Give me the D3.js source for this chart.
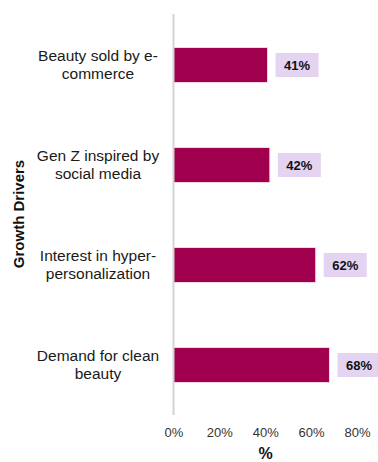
<!DOCTYPE html>
<html>
<head>
<meta charset="utf-8">
<script src="https://cdn.jsdelivr.net/npm/d3@7"></script>
<style>
  html, body { margin: 0; padding: 0; background: #fff; }
  svg { display: block; font-family: "Liberation Sans", Arial, sans-serif; }
</style>
</head>
<body>
<svg id="chart" width="378" height="462"></svg>
<script>
// Growth drivers and the share of respondents citing each
const drivers = [
  ["Beauty sold by e-", "commerce"],
  ["Gen Z inspired by", "social media"],
  ["Interest in hyper-", "personalization"],
  ["Demand for clean", "beauty"]
];
const shares = [41, 42, 62, 68];
const tickValues = [0, 20, 40, 60, 80];

const svg = d3.select("#chart");

const x = d3.scaleLinear().domain([0, 80]).range([173.5, 357]);
const y = d3.scaleBand().domain(d3.range(drivers.length)).range([15, 415]).paddingInner(0.65).paddingOuter(0.325);

// Bars
svg.selectAll("rect.bar")
  .data(shares)
  .join("rect")
  .attr("class", "bar")
  .attr("x", x(0))
  .attr("y", (d, i) => y(i))
  .attr("width", d => x(d) - x(0))
  .attr("height", y.bandwidth())
  .attr("fill", "#a1004f")
  .attr("stroke", "#f3d6e6")
  .attr("stroke-width", 1);

// Value labels on lavender chips
const chipW = 43, chipH = 24, gap = 8;
const chips = svg.selectAll("g.chip")
  .data(shares)
  .join("g")
  .attr("class", "chip")
  .attr("transform", (d, i) => `translate(${x(d) + gap},${y(i) + y.bandwidth() / 2 - chipH / 2})`);
chips.append("rect")
  .attr("width", chipW)
  .attr("height", chipH)
  .attr("fill", "#e4d3f1");
chips.append("text")
  .attr("x", chipW / 2)
  .attr("y", chipH / 2 + 4.7)
  .attr("text-anchor", "middle")
  .attr("font-size", 13)
  .attr("font-weight", "bold")
  .attr("fill", "#111")
  .text(d => d + "%");

// Vertical baseline
svg.append("line")
  .attr("x1", x(0)).attr("x2", x(0))
  .attr("y1", 14).attr("y2", 415)
  .attr("stroke", "#d4d4d4")
  .attr("stroke-width", 2);

// Category labels (two lines each)
const cats = svg.selectAll("text.cat")
  .data(drivers)
  .join("text")
  .attr("class", "cat")
  .attr("text-anchor", "middle")
  .attr("font-size", 15.5)
  .attr("fill", "#1a1a1a");
cats.each(function (lines, i) {
  const cy = y(i) + y.bandwidth() / 2;
  d3.select(this).selectAll("tspan")
    .data(lines)
    .join("tspan")
    .attr("x", 98)
    .attr("y", (l, j) => cy - 4.3 + j * 18.6)
    .text(l => l);
});

// X axis tick labels
const xAxis = d3.axisBottom(x).tickValues(tickValues).tickFormat(d => d + "%").tickSize(0).tickPadding(0);
const gx = svg.append("g").attr("transform", "translate(0,428)").call(xAxis);
gx.select(".domain").remove();
gx.selectAll("text")
  .attr("font-family", "Liberation Sans, Arial, sans-serif")
  .attr("font-size", 13)
  .attr("fill", "#333");

// Axis titles
svg.append("text")
  .attr("x", 265.5)
  .attr("y", 459)
  .attr("text-anchor", "middle")
  .attr("font-size", 16)
  .attr("font-weight", "bold")
  .attr("fill", "#111")
  .text("%");

svg.append("text")
  .attr("transform", "translate(23.5,214) rotate(-90)")
  .attr("text-anchor", "middle")
  .attr("font-size", 15)
  .attr("font-weight", "bold")
  .attr("fill", "#111")
  .text("Growth Drivers");
</script>
</body>
</html>
